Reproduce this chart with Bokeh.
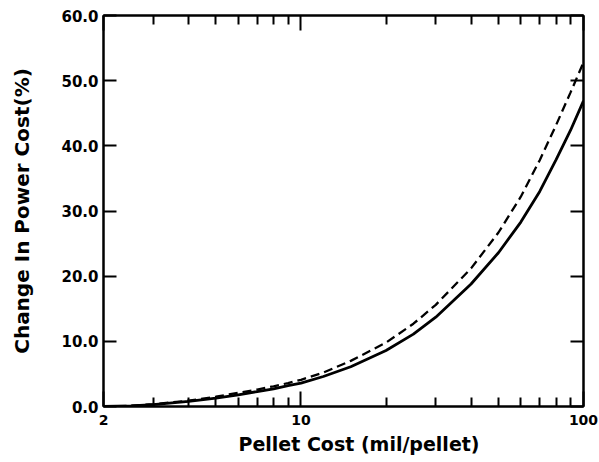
from bokeh.plotting import figure
from bokeh.models import LogAxis, LinearAxis, FixedTicker, NumeralTickFormatter, Range1d, Title
from bokeh.embed import file_html
from bokeh.resources import INLINE

# Data
pellet_cost = [2, 2.5, 3, 4, 5, 6, 7, 8, 9, 10, 12, 15, 20, 25, 30, 40, 50, 60, 70, 80, 90, 100]
change_solid = [0.0, 0.1, 0.3, 0.8, 1.3, 1.8, 2.3, 2.7, 3.2, 3.6, 4.6, 6.1, 8.6, 11.1, 13.7, 18.8, 23.6, 28.3, 33.0, 37.9, 42.4, 46.9]
change_dashed = [0.0, 0.12, 0.35, 0.9, 1.5, 2.1, 2.6, 3.1, 3.6, 4.1, 5.2, 7.0, 9.8, 12.7, 15.6, 21.2, 26.7, 32.2, 37.8, 43.2, 48.2, 52.8]

x_major = [2, 10, 100]
x_minor = [3, 4, 5, 6, 7, 8, 9, 20, 30, 40, 50, 60, 70, 80, 90]
y_ticks = [0, 10, 20, 30, 40, 50, 60]

FONT = "DejaVu Sans"

p = figure(width=599, height=462, x_axis_type="log",
           x_range=Range1d(2, 100), y_range=Range1d(0, 60),
           output_backend="svg", toolbar_location=None,
           min_border_left=103, min_border_right=16, min_border_top=15, min_border_bottom=56)
p.grid.visible = False
p.outline_line_color = "black"
p.outline_line_width = 2
p.background_fill_color = "white"
p.border_fill_color = "white"

p.line(pellet_cost, change_solid, line_color="black", line_width=2.8)
p.line(pellet_cost, change_dashed, line_color="black", line_width=2.3, line_dash="9 5")


def style_x(ax, show_labels):
    ax.ticker = FixedTicker(ticks=x_major, minor_ticks=x_minor)
    ax.major_tick_in = 15
    ax.major_tick_out = 0
    ax.minor_tick_in = 9
    ax.minor_tick_out = 0
    ax.axis_line_width = 2
    ax.major_tick_line_width = 2
    ax.minor_tick_line_width = 2
    ax.axis_line_color = "black"
    ax.major_tick_line_color = "black"
    ax.minor_tick_line_color = "black"
    ax.formatter = NumeralTickFormatter(format="0")
    if show_labels:
        ax.major_label_overrides = {2: "2", 10: "10", 100: "100"}
        ax.major_label_text_font = FONT
        ax.major_label_text_font_style = "bold"
        ax.major_label_text_font_size = "14px"
        ax.major_label_text_color = "black"
        ax.major_label_standoff = 8
    else:
        ax.major_label_overrides = {t: "" for t in x_major}
        ax.major_label_text_font_size = "1px"
        ax.major_label_standoff = 0


def style_y(ax, show_labels):
    ax.ticker = FixedTicker(ticks=y_ticks)
    ax.major_tick_in = 13
    ax.major_tick_out = 0
    ax.minor_tick_in = 0
    ax.minor_tick_out = 0
    ax.axis_line_width = 2
    ax.major_tick_line_width = 2
    ax.axis_line_color = "black"
    ax.major_tick_line_color = "black"
    ax.formatter = NumeralTickFormatter(format="0.0")
    if show_labels:
        ax.major_label_text_font = FONT
        ax.major_label_text_font_style = "bold"
        ax.major_label_text_font_size = "15px"
        ax.major_label_text_color = "black"
        ax.major_label_standoff = 5
    else:
        ax.major_label_overrides = {t: "" for t in y_ticks}
        ax.major_label_text_font_size = "1px"
        ax.major_label_standoff = 0


xb = p.xaxis[0]
style_x(xb, True)

yl = p.yaxis[0]
style_y(yl, True)
yl.axis_label = "Change In Power Cost(%)"
yl.axis_label_text_font = FONT
yl.axis_label_text_font_style = "bold"
yl.axis_label_text_font_size = "20px"
yl.axis_label_text_color = "black"
yl.axis_label_standoff = 24

xt = LogAxis()
style_x(xt, False)
p.add_layout(xt, "above")

yr = LinearAxis()
style_y(yr, False)
p.add_layout(yr, "right")

xlabel = Title(text="Pellet Cost (mil/pellet)", align="left", offset=135,
               text_font=FONT, text_font_style="bold", text_font_size="19px",
               text_color="black", standoff=6)
p.add_layout(xlabel, "below")

open("out.html", "w").write(file_html(p, INLINE))
